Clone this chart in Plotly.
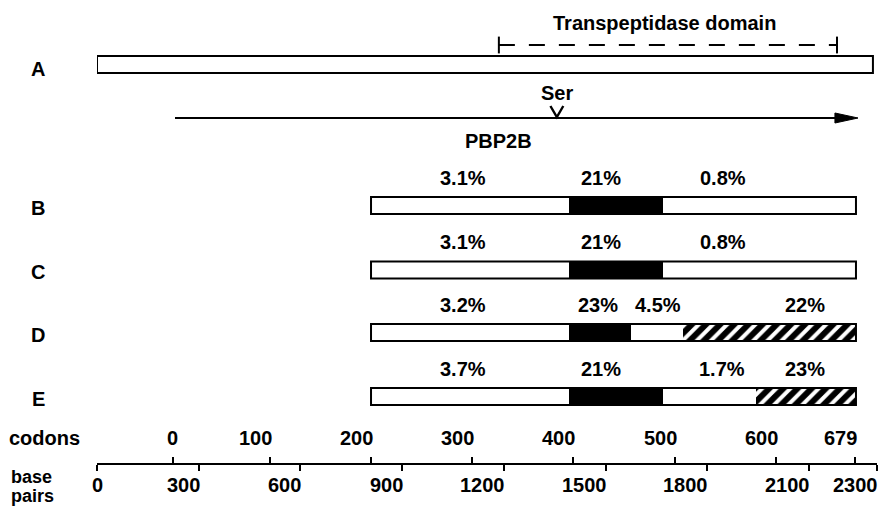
import plotly.graph_objects as go

# ---------------- data ----------------
bp_ticks = [0, 300, 600, 900, 1200, 1500, 1800, 2100, 2300]
codon_labels = [0, 100, 200, 300, 400, 500, 600, 679]
codon_tick_bp = [224, 510, 808, 1106, 1404, 1704, 2002, 2235]

gene_len_bp = 2288            # box A spans the whole sequenced region
domain_start_bp = 1185        # transpeptidase domain
domain_end_bp = 2182
orf_start_bp = 230            # PBP2B arrow
orf_end_bp = 2244
ser_bp = 1356                 # active-site serine

row_names = ["B", "C", "D", "E"]
row_edges = [
    [808, 1392, 1669, 2238],
    [808, 1392, 1669, 2238],
    [808, 1392, 1575, 1728, 2238],
    [808, 1392, 1669, 1943, 2238],
]
row_kinds = [
    ["open", "solid", "open"],
    ["open", "solid", "open"],
    ["open", "solid", "open", "hatch"],
    ["open", "solid", "open", "hatch"],
]
row_pct = [
    ["3.1%", "21%", "0.8%"],
    ["3.1%", "21%", "0.8%"],
    ["3.2%", "23%", "4.5%", "22%"],
    ["3.7%", "21%", "1.7%", "23%"],
]
row_pct_x = [
    [1079, 1486, 1846],
    [1079, 1486, 1846],
    [1079, 1477, 1654, 2088],
    [1079, 1486, 1843, 2088],
]

# ---------------- layout constants (vertical positions in px units) ----------------
Y_A = 64.5
Y_ROWS = [205.5, 270, 332.5, 396.5]
Y_DOMAIN = 45
Y_ARROW = 118
BOX_H = 17
PLOT_H = 463

FONT = dict(family="Liberation Sans, Arial, sans-serif", size=20, color="black", weight="bold")

fig = go.Figure()

def add_bar(y, x0, x1, kind, outline=False):
    common = dict(orientation="h", y=[y], x=[x1 - x0], base=[x0], width=BOX_H,
                  xaxis="x", yaxis="y", hoverinfo="skip", showlegend=False)
    if outline:
        fig.add_trace(go.Bar(marker=dict(color="rgba(0,0,0,0)",
                                         line=dict(color="black", width=2)), **common))
    elif kind == "solid":
        fig.add_trace(go.Bar(marker=dict(color="black", line=dict(width=0)), **common))
    elif kind == "hatch":
        fig.add_trace(go.Bar(marker=dict(color="white", line=dict(width=0),
                                         pattern=dict(shape="/", fgcolor="black", bgcolor="white",
                                                      fgopacity=1, size=10, solidity=0.6)), **common))
    else:
        fig.add_trace(go.Bar(marker=dict(color="white", line=dict(width=0)), **common))

# Box A
add_bar(Y_A, 0, gene_len_bp, "open")
add_bar(Y_A, 0, gene_len_bp, None, outline=True)

# Rows B-E
for yi, edges, kinds in zip(Y_ROWS, row_edges, row_kinds):
    for i, k in enumerate(kinds):
        add_bar(yi, edges[i], edges[i + 1], k)
    add_bar(yi, edges[0], edges[-1], None, outline=True)

# Transpeptidase domain dashed bracket
fig.add_trace(go.Scatter(x=[domain_start_bp, domain_end_bp], y=[Y_DOMAIN, Y_DOMAIN],
                         mode="lines", line=dict(color="black", width=2, dash="16px,14px"),
                         hoverinfo="skip", showlegend=False))
fig.add_trace(go.Scatter(x=[domain_start_bp, domain_end_bp], y=[Y_DOMAIN, Y_DOMAIN],
                         mode="markers",
                         marker=dict(symbol="line-ns", size=12, line=dict(color="black", width=2)),
                         hoverinfo="skip", showlegend=False))

# PBP2B arrow
HEAD_LEN = 68
HEAD_HALF = 5
fig.add_trace(go.Scatter(x=[orf_start_bp, orf_end_bp - HEAD_LEN + 5], y=[Y_ARROW, Y_ARROW],
                         mode="lines", line=dict(color="black", width=2),
                         hoverinfo="skip", showlegend=False))
fig.add_trace(go.Scatter(x=[orf_end_bp - HEAD_LEN, orf_end_bp, orf_end_bp - HEAD_LEN, orf_end_bp - HEAD_LEN],
                         y=[Y_ARROW - HEAD_HALF, Y_ARROW, Y_ARROW + HEAD_HALF, Y_ARROW - HEAD_HALF],
                         mode="lines", fill="toself", fillcolor="black",
                         line=dict(color="black", width=1),
                         hoverinfo="skip", showlegend=False))

# serine pointer (V mark touching the arrow)
V_HALF_W = 19   # bp
V_H = 12        # px
fig.add_trace(go.Scatter(x=[ser_bp - V_HALF_W, ser_bp, ser_bp + V_HALF_W],
                         y=[Y_ARROW - V_H, Y_ARROW - 1, Y_ARROW - V_H],
                         mode="lines", line=dict(color="black", width=2.4),
                         hoverinfo="skip", showlegend=False))

ann = []
def text(x, y, s, xref="x", yref="y", xanchor="center", xshift=0, pad=1, size=None):
    if yref == "paper":
        y = (PLOT_H - y) / PLOT_H      # convert px-from-top to paper fraction
    f = dict(FONT)
    if size:
        f["size"] = size
    ann.append(dict(x=x, y=y, xref=xref, yref=yref, text=s, showarrow=False,
                    xanchor=xanchor, yanchor="middle", xshift=xshift, borderpad=pad,
                    font=f))

text((domain_start_bp + domain_end_bp) / 2 - 10, 23, "Transpeptidase domain")
text(ser_bp, 93, "Ser")
text(1185, 141, "PBP2B")

# row letters
LBL_X = (38 - 97) / 780
text(LBL_X, Y_A + 4, "A", xref="paper")
for nm, yi in zip(row_names, Y_ROWS):
    text(LBL_X, yi + 2, nm, xref="paper")

# percentages
for yi, labs, xs in zip(Y_ROWS, row_pct, row_pct_x):
    for s, x in zip(labs, xs):
        text(x, yi - 28, s)

# axis labels
text((44 - 97) / 780, 438, "codons", xref="paper")
text((10 - 97) / 780, 477, "base", xref="paper", yref="paper", xanchor="left", pad=0, size=18)
text((10 - 97) / 780, 496, "pairs", xref="paper", yref="paper", xanchor="left", pad=0, size=18)

# codon tick labels (above axis)
for c, x in zip(codon_labels, codon_tick_bp):
    if c == 0:
        text(x, 438, str(c))
    else:
        text(x, 438, str(c), xanchor="right", xshift=4)

# base-pair tick labels (below axis)
for b in bp_ticks:
    if b == 0:
        text(b, 485, str(b), yref="paper")
    else:
        text(b, 485, str(b), yref="paper", xanchor="right", xshift=3)

fig.update_layout(
    width=884, height=508,
    margin=dict(l=97, r=7, t=0, b=508 - PLOT_H, pad=0),
    paper_bgcolor="white", plot_bgcolor="white",
    barmode="overlay", bargap=0,
    showlegend=False,
    font=FONT,
    annotations=ann,
    xaxis=dict(range=[0, 2300], showgrid=False, zeroline=False,
               showline=True, linecolor="black", linewidth=2,
               ticks="outside", ticklen=6, tickwidth=2, tickcolor="black",
               tickvals=bp_ticks, showticklabels=False, fixedrange=True,
               minor=dict(tickvals=codon_tick_bp, ticks="inside", ticklen=6,
                          tickwidth=2, tickcolor="black", showgrid=False)),
    yaxis=dict(range=[PLOT_H, 0], visible=False, fixedrange=True),
)

fig.write_html(
    "out.html",
    config={"displayModeBar": False, "staticPlot": True},
    post_script="document.body.style.margin='0px';document.body.style.padding='0px';document.body.style.overflow='hidden';",
)
